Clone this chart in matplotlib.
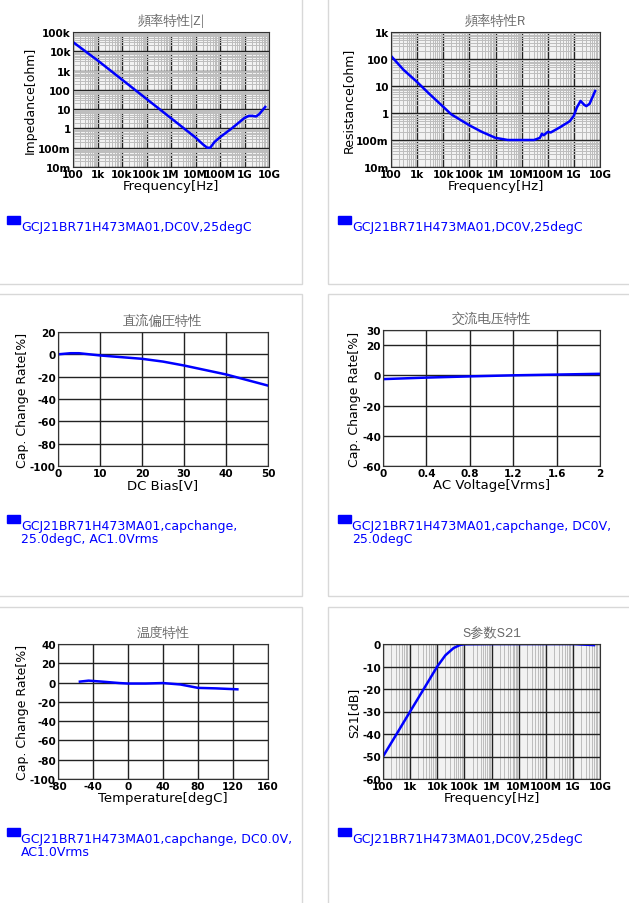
import matplotlib
matplotlib.use("Agg")
import matplotlib.pyplot as plt
from matplotlib.patches import Rectangle
from matplotlib.ticker import LogLocator, NullFormatter

plt.rcParams["font.family"] = ["DejaVu Sans"]
plt.rcParams["axes.unicode_minus"] = False
CJK = ["WenQuanYi Zen Hei", "Noto Sans CJK SC", "DejaVu Sans"]

W, H = 629, 904

# ---- data ----
z_freq = [100, 1e3, 1e4, 1e5, 1e6, 1e7, 2e7, 3e7, 4e7, 6e7, 1e8, 3e8, 1e9, 1.5e9, 2e9, 3e9, 4e9, 7e9]
z_val = [30e3, 3.4e3, 340, 34, 3.4, 0.34, 0.15, 0.1, 0.1, 0.2, 0.35, 1, 3.5, 4.5, 4.5, 4.2, 5.5, 13]

r_freq = [100, 300, 1e3, 3e3, 1e4, 2e4, 1e5, 3e5, 1e6, 3e6, 1e7, 3e7, 5e7, 6e7, 7e7, 1e8, 1.3e8,
          3e8, 7e8, 1e9, 1.3e9, 1.8e9, 2.5e9, 3e9, 4e9, 6.5e9]
r_val = [130, 40, 14, 5, 1.7, 0.9, 0.35, 0.2, 0.12, 0.1, 0.1, 0.1, 0.12, 0.17, 0.15, 0.2, 0.19,
         0.3, 0.5, 0.8, 1.6, 2.8, 2.0, 1.8, 2.2, 6.5]

dc_volt = [0, 3, 5, 10, 15, 20, 25, 30, 35, 40, 45, 50]
dc_rate = [0, 1, 1, -1, -2.5, -4, -6.5, -10, -14, -18, -23, -28]

ac_volt = [0, 0.4, 0.8, 1.2, 1.6, 2.0]
ac_rate = [-2.5, -1.5, -0.7, 0, 0.5, 1]

t_temp = [-55, -45, -30, -10, 0, 20, 40, 60, 80, 100, 125]
t_rate = [1, 2, 1, -0.5, -1, -1, -0.5, -2, -5.5, -6, -7]

s_freq = [100, 300, 1e3, 3e3, 1e4, 2e4, 4e4, 7e4, 1e5, 1e6, 1e9, 6e9]
s_val = [-50, -40.5, -30, -20.5, -10, -5, -1.8, -0.4, -0.1, 0, 0, -0.5]

freq_ticks = [1e2, 1e3, 1e4, 1e5, 1e6, 1e7, 1e8, 1e9, 1e10]
freq_labels = ["100", "1k", "10k", "100k", "1M", "10M", "100M", "1G", "10G"]

fig = plt.figure(figsize=(W / 100, H / 100), dpi=100)

# card borders
for (x0, y0, x1, y1) in [(-5, -5, 302, 285), (328, -5, 640, 285),
                         (-5, 295, 302, 597), (328, 295, 640, 597),
                         (-5, 608, 302, 910), (328, 608, 640, 910)]:
    fig.patches.append(Rectangle((x0 / W, 1 - y1 / H), (x1 - x0) / W, (y1 - y0) / H,
                                 transform=fig.transFigure, fill=False, ec="#d8d8d8", lw=1))


def make_ax(x0, y0, x1, y1):
    return fig.add_axes([x0 / W, 1 - y1 / H, (x1 - x0) / W, (y1 - y0) / H])


def style(ax, title, xlabel, ylabel, legend, legend_x, legend_y):
    ax.set_title(title, color="#666666", fontsize=9.5, pad=6, fontfamily=CJK)
    ax.set_xlabel(xlabel, fontsize=9.5, labelpad=0)
    ax.set_ylabel(ylabel, fontsize=9, labelpad=1)
    ax.tick_params(which="both", labelsize=7.5, length=0, pad=1.5)
    for lab in ax.get_xticklabels() + ax.get_yticklabels():
        lab.set_fontweight("bold")
    for s in ax.spines.values():
        s.set_color("#333333")
    fig.patches.append(Rectangle((legend_x / W, 1 - (legend_y + 4) / H), 13 / W, 8 / H,
                                 transform=fig.transFigure, color="#0000ff"))
    fig.text((legend_x + 14) / W, 1 - legend_y / H, legend, color="#0000ff", fontsize=9,
             va="top", linespacing=1.0)


def log_minor(axis):
    axis.set_minor_locator(LogLocator(base=10, subs=range(2, 10), numticks=100))
    axis.set_minor_formatter(NullFormatter())


def log_x(ax):
    ax.set_xscale("log")
    ax.set_xlim(1e2, 1e10)
    ax.set_xticks(freq_ticks)
    ax.set_xticklabels(freq_labels)
    log_minor(ax.xaxis)
    ax.set_facecolor("#f2f2f2")
    ax.grid(True, which="minor", axis="x", color="#bdbdbd", lw=0.7)
    ax.grid(True, which="major", color="#222222", lw=1.0)


def log_y(ax):
    ax.set_yscale("log")
    log_minor(ax.yaxis)
    ax.grid(True, which="minor", axis="y", color="#bdbdbd", lw=0.7)


leg1 = "GCJ21BR71H473MA01,DC0V,25degC"

# |Z|
ax = make_ax(73, 33, 269, 168)
log_x(ax)
log_y(ax)
ax.set_ylim(1e-2, 1e5)
ax.set_yticks([1e-2, 1e-1, 1, 10, 100, 1e3, 1e4, 1e5])
ax.set_yticklabels(["10m", "100m", "1", "10", "100", "1k", "10k", "100k"])
ax.plot(z_freq, z_val, color="#0000ff", lw=1.8)
style(ax, "頻率特性|Z|", "Frequency[Hz]", "Impedance[ohm]", leg1, 7, 221)

# R
ax = make_ax(391, 33, 600, 168)
log_x(ax)
log_y(ax)
ax.set_ylim(1e-2, 1e3)
ax.set_yticks([1e-2, 1e-1, 1, 10, 100, 1e3])
ax.set_yticklabels(["10m", "100m", "1", "10", "100", "1k"])
ax.plot(r_freq, r_val, color="#0000ff", lw=1.8)
style(ax, "頻率特性R", "Frequency[Hz]", "Resistance[ohm]", leg1, 338, 221)

# DC bias
ax = make_ax(58, 333, 268, 467)
ax.set_xlim(0, 50)
ax.set_ylim(-100, 20)
ax.set_xticks(range(0, 51, 10))
ax.set_yticks(range(-100, 21, 20))
ax.grid(True, color="#222222", lw=1.0)
ax.plot(dc_volt, dc_rate, color="#0000ff", lw=1.8)
style(ax, "直流偏圧特性", "DC Bias[V]", "Cap. Change Rate[%]",
      "GCJ21BR71H473MA01,capchange,\n25.0degC, AC1.0Vrms", 7, 520)

# AC voltage
ax = make_ax(383, 331, 600, 467)
ax.set_xlim(0, 2)
ax.set_ylim(-60, 30)
ax.set_xticks([0, 0.4, 0.8, 1.2, 1.6, 2])
ax.set_xticklabels(["0", "0.4", "0.8", "1.2", "1.6", "2"])
ax.set_yticks([-60, -40, -20, 0, 20, 30])
ax.grid(True, color="#222222", lw=1.0)
ax.plot(ac_volt, ac_rate, color="#0000ff", lw=1.8)
style(ax, "交流电压特性", "AC Voltage[Vrms]", "Cap. Change Rate[%]",
      "GCJ21BR71H473MA01,capchange, DC0V,\n25.0degC", 338, 520)

# Temperature
ax = make_ax(58, 645, 268, 780)
ax.set_xlim(-80, 160)
ax.set_ylim(-100, 40)
ax.set_xticks(range(-80, 161, 40))
ax.set_yticks(range(-100, 41, 20))
ax.grid(True, color="#222222", lw=1.0)
ax.plot(t_temp, t_rate, color="#0000ff", lw=1.8)
style(ax, "温度特性", "Temperature[degC]", "Cap. Change Rate[%]",
      "GCJ21BR71H473MA01,capchange, DC0.0V,\nAC1.0Vrms", 7, 833)

# S21
ax = make_ax(383, 645, 600, 780)
log_x(ax)
ax.set_ylim(-60, 0)
ax.set_yticks(range(-60, 1, 10))
ax.plot(s_freq, s_val, color="#0000ff", lw=1.8)
style(ax, "S参数S21", "Frequency[Hz]", "S21[dB]", leg1, 338, 833)

fig.savefig("out.png", dpi=100)
